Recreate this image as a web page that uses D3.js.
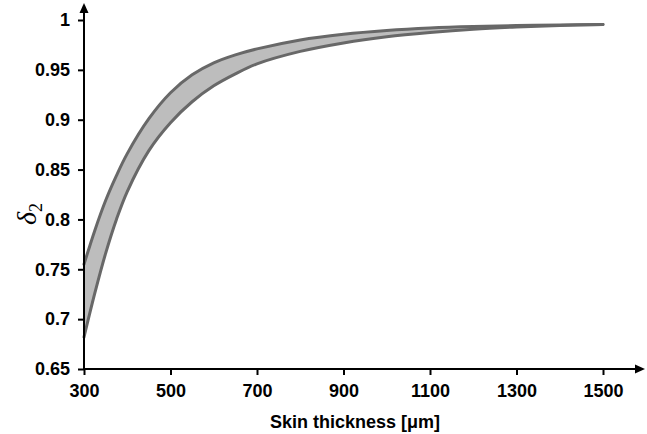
<!DOCTYPE html>
<html>
<head>
<meta charset="utf-8">
<script src="https://cdn.jsdelivr.net/npm/d3@7"></script>
<style>
  body { margin: 0; background: #fff; }
  .tick text { font-family: "Liberation Sans", Arial, sans-serif; font-weight: bold; font-size: 18px; }
</style>
</head>
<body>
<script>
// skin thickness in um
var thickness = [300, 325, 350, 375, 400, 450, 500, 550, 600, 650, 700, 800, 900, 1000, 1100, 1200, 1300, 1400, 1500];
// upper and lower bound of delta_2
var upperBound = [0.755, 0.789, 0.819, 0.844, 0.866, 0.901, 0.927, 0.945, 0.957, 0.965, 0.971, 0.980, 0.9857, 0.9895, 0.992, 0.9935, 0.9944, 0.995, 0.9955];
var lowerBound = [0.682, 0.726, 0.766, 0.800, 0.828, 0.869, 0.897, 0.918, 0.934, 0.946, 0.956, 0.9685, 0.977, 0.9832, 0.9875, 0.9908, 0.993, 0.9945, 0.9955];
var xTicks = [300, 500, 700, 900, 1100, 1300, 1500];
var yTicks = [0.65, 0.7, 0.75, 0.8, 0.85, 0.9, 0.95, 1];

var svg = d3.select("body")
	.append("svg")
	.attr("width", 647)
	.attr("height", 434);

var xScale = d3.scaleLinear()
	.domain([300, 1500])
	.range([84, 603]);

var yScale = d3.scaleLinear()
	.domain([0.65, 1])
	.range([369, 20]);

var data = thickness.map(function(d, i) {
	return {x: d, hi: upperBound[i], lo: lowerBound[i]};
});

var curve = d3.curveCatmullRom.alpha(0.5);

// gray band
var area = d3.area()
	.x(function(d) { return xScale(d.x); })
	.y0(function(d) { return yScale(d.lo); })
	.y1(function(d) { return yScale(d.hi); })
	.curve(curve);

svg.append("path")
	.datum(data)
	.attr("d", area)
	.attr("fill", "#bdbdbd");

// the two bounding curves
["hi", "lo"].forEach(function(key) {
	var line = d3.line()
		.x(function(d) { return xScale(d.x); })
		.y(function(d) { return yScale(d[key]); })
		.curve(curve);
	svg.append("path")
		.datum(data)
		.attr("d", line)
		.attr("fill", "none")
		.attr("stroke", "#686868")
		.attr("stroke-width", 3)
		.attr("stroke-linecap", "round");
});

// x-axis
var xAxis = svg.append("g")
	.attr("transform", "translate(0,369)")
	.call(d3.axisBottom(xScale).tickValues(xTicks).tickSize(6).tickPadding(9).tickFormat(d3.format("d")));
xAxis.select(".domain").remove();
xAxis.selectAll(".tick line").attr("stroke", "#000").attr("stroke-width", 2);
xAxis.selectAll(".tick text").attr("fill", "#000");

// y-axis
var yAxis = svg.append("g")
	.attr("transform", "translate(84,0)")
	.call(d3.axisLeft(yScale).tickValues(yTicks).tickSize(6).tickPadding(8).tickFormat(function(d) { return String(+d.toFixed(2)); }));
yAxis.select(".domain").remove();
yAxis.selectAll(".tick line").attr("stroke", "#000").attr("stroke-width", 2);
yAxis.selectAll(".tick text").attr("fill", "#000");

// axis lines with arrows
svg.append("line")
	.attr("x1", 84).attr("y1", 370)
	.attr("x2", 84).attr("y2", 10)
	.attr("stroke", "#000").attr("stroke-width", 2);
svg.append("path")
	.attr("d", "M84,3 L79.5,13 L88.5,13 Z")
	.attr("fill", "#000");

svg.append("line")
	.attr("x1", 83).attr("y1", 369)
	.attr("x2", 638).attr("y2", 369)
	.attr("stroke", "#000").attr("stroke-width", 2);
svg.append("path")
	.attr("d", "M645,369 L635,364.5 L635,373.5 Z")
	.attr("fill", "#000");

// x-axis title
svg.append("text")
	.attr("x", 355)
	.attr("y", 428)
	.attr("text-anchor", "middle")
	.attr("font-family", "Liberation Sans, Arial, sans-serif")
	.attr("font-weight", "bold")
	.attr("font-size", 18)
	.text("Skin thickness [\u03bcm]");

// y-axis title
var yTitle = svg.append("text")
	.attr("transform", "translate(36,214) rotate(-90)")
	.attr("text-anchor", "middle")
	.attr("font-family", "Liberation Serif, Times New Roman, serif")
	.attr("font-style", "italic")
	.attr("font-size", 28);
yTitle.append("tspan").text("\u03b4");
yTitle.append("tspan")
	.attr("font-size", 18)
	.attr("dy", 6)
	.attr("font-style", "normal")
	.text("2");
</script>
</body>
</html>
